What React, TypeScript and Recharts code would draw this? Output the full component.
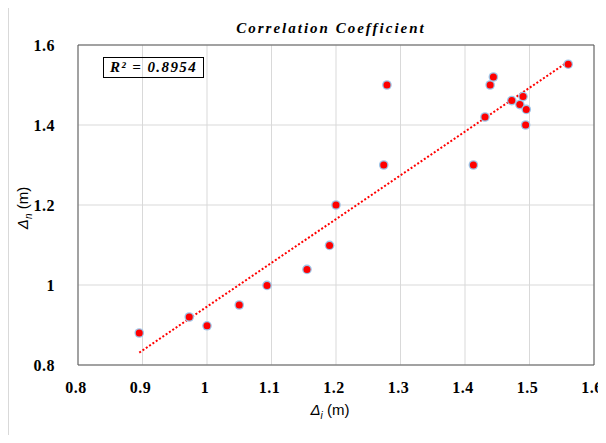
import {
  ScatterChart, Scatter, XAxis, YAxis, CartesianGrid, ReferenceLine
} from "recharts"

// measured vs. predicted settlement pairs
const deltaI = [0.895, 0.9725, 1.0, 1.05, 1.093, 1.155, 1.19, 1.2, 1.274, 1.279, 1.413, 1.431, 1.439, 1.444, 1.4725, 1.485, 1.49, 1.495, 1.494, 1.56]
const deltaN = [0.88, 0.92, 0.898, 0.95, 0.999, 1.039, 1.099, 1.2, 1.3, 1.5, 1.3, 1.42, 1.5, 1.52, 1.461, 1.451, 1.471, 1.439, 1.4, 1.552]

const xTicks = [0.8, 0.9, 1, 1.1, 1.2, 1.3, 1.4, 1.5, 1.6]
const yTicks = [0.8, 1, 1.2, 1.4, 1.6]

const points = deltaI.map((x, i) => ({ x, y: deltaN[i] }))

// least squares trendline
const n = points.length
const mx = deltaI.reduce((a, b) => a + b, 0) / n
const my = deltaN.reduce((a, b) => a + b, 0) / n
let sxy = 0, sxx = 0
points.forEach(p => { sxy += (p.x - mx) * (p.y - my); sxx += (p.x - mx) ** 2 })
const slope = sxy / sxx
const intercept = my - slope * mx
const x0 = Math.min(...deltaI)
const x1 = Math.max(...deltaI)

const serif = "Liberation Serif, Times New Roman, serif"
const sans = "Liberation Sans, Arial, sans-serif"

const fmt = (v: number) => String(+v.toFixed(1))

const XTick = ({ x, y, payload }: any) => (
  <text x={x - 2} y={y + 20} textAnchor="middle" fontFamily="Times New Roman, Liberation Serif, serif"
    fontWeight="bold" fontSize={16} letterSpacing={0.5} fill="#000">
    {fmt(payload.value)}
  </text>
)

const YTick = ({ x, y, payload }: any) => (
  <text x={x - 15} y={y + 6} textAnchor="end" fontFamily="Times New Roman, Liberation Serif, serif"
    fontWeight="bold" fontSize={16} letterSpacing={0.5} fill="#000">
    {fmt(payload.value)}
  </text>
)

const Dot = (props: any) => {
  const { cx, cy } = props
  return (
    <g>
      <circle cx={cx} cy={cy} r={4.8} fill="#9dc3e6" />
      <circle cx={cx} cy={cy} r={3.5} fill="#ff0000" />
    </g>
  )
}

export default function App() {
  return (
    <div style={{ position: "relative", width: 598, height: 427, background: "#fff", fontFamily: serif }}>
      <style>{`.recharts-surface { overflow: visible; } body { overflow: hidden; }`}</style>
      <div style={{ position: "absolute", left: 0, top: -8, width: 1, height: 443, background: "#d9d9d9" }} />
      <div style={{
        position: "absolute", left: 0, width: 598, top: 12, textAlign: "center",
        fontFamily: serif, fontWeight: 700, fontStyle: "italic", fontSize: 15, letterSpacing: 2
      }}>
        <span style={{ position: "relative", left: 24 }}>Correlation Coefficient</span>
      </div>
      <ScatterChart width={598} height={427} margin={{ top: 37, right: 12, bottom: 22, left: 0 }}>
        <CartesianGrid stroke="#d9d9d9" />
        <XAxis
          type="number" dataKey="x" domain={[0.8, 1.6]} ticks={xTicks}
          tick={<XTick />} axisLine={{ stroke: "#595959" }} tickLine={false} height={48}
          allowDataOverflow
        />
        <YAxis
          type="number" dataKey="y" domain={[0.8, 1.6]} ticks={yTicks}
          tick={<YTick />} axisLine={{ stroke: "#595959" }} tickLine={false} width={70}
          allowDataOverflow
        />
        <ReferenceLine y={1.6} stroke="#595959" />
        <ReferenceLine x={1.6} stroke="#595959" />
        <ReferenceLine
          segment={[{ x: x0, y: slope * x0 + intercept }, { x: x1, y: slope * x1 + intercept }]}
          stroke="#ff0000" strokeWidth={2} strokeDasharray="2 2"
        />
        <Scatter data={points} shape={<Dot />} isAnimationActive={false} />
      </ScatterChart>
      <div style={{
        position: "absolute", left: 95, top: 49, width: 99, height: 19, border: "1.5px solid #000",
        fontFamily: serif, fontWeight: 700, fontStyle: "italic", fontSize: 15, letterSpacing: 1.4,
        lineHeight: "19px", textAlign: "center", whiteSpace: "nowrap"
      }}>
        R² = 0.8954
      </div>
      <div style={{
        position: "absolute", left: 322, top: 393, transform: "translateX(-50%)",
        fontFamily: sans, fontSize: 15, whiteSpace: "nowrap"
      }}>
        <i>Δ</i><sub style={{ fontStyle: "italic", fontSize: 10 }}>i</sub> (m)
      </div>
      <div style={{
        position: "absolute", left: 16, top: 200, transform: "translate(-50%, -50%) rotate(-90deg)",
        fontFamily: sans, fontSize: 15, whiteSpace: "nowrap"
      }}>
        <i>Δ</i><sub style={{ fontStyle: "italic", fontSize: 10 }}>n</sub> (m)
      </div>
    </div>
  )
}
